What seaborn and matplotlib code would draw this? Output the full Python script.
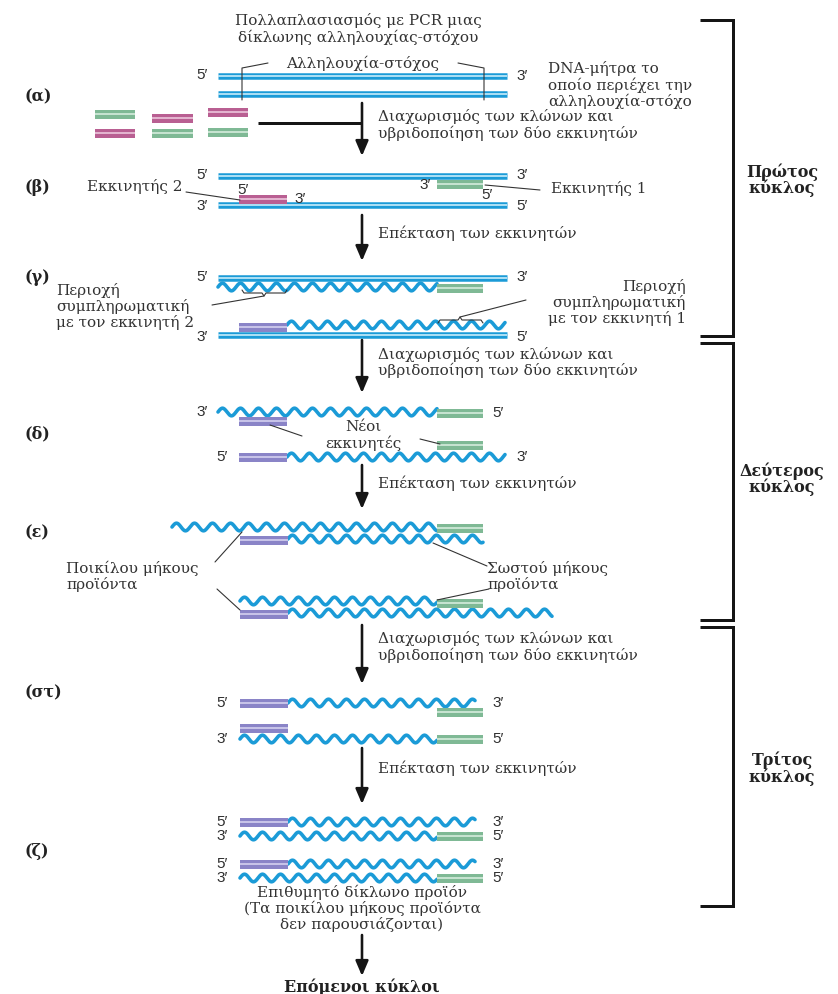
import numpy as np
import matplotlib
matplotlib.use("Agg")
import matplotlib.pyplot as plt
import seaborn as sns
from matplotlib.patches import Rectangle

sns.set_theme(style="white")

W, H = 838, 994
PX = 0.72  # points per pixel at dpi 100

BLUE = "#1b9bd7"
BLUE_LIGHT = "#b9e6f8"
PRIMER_COLORS = {"g": ("#7fb995", "#c6e3d0"),
                 "p": ("#b95f92", "#e3b4cf"),
                 "v": ("#8a84c7", "#c7c3e8")}
TEXT = "#333333"
SERIF = ["DejaVu Serif"]
SANS = ["Liberation Sans", "DejaVu Sans"]
FS = 11

# ── diagram data (pixel coordinates, y grows downward) ─────────────────────
straight = [(218, 507, 76), (218, 507, 94),
            (218, 507, 176), (218, 507, 205),
            (218, 507, 278), (218, 507, 335)]

waves = [(218, 437, 287), (287, 505, 325),
         (218, 437, 412), (287, 505, 457),
         (172, 437, 527), (288, 483, 539),
         (240, 437, 601), (288, 552, 613),
         (288, 475, 703), (240, 437, 739),
         (288, 475, 822), (240, 437, 836),
         (288, 475, 864), (240, 437, 878)]

primers = [(95, 135, 114, "g"), (152, 193, 118, "p"), (208, 248, 112, "p"),
           (95, 135, 133, "p"), (152, 193, 133, "g"), (208, 248, 132, "g"),
           (437, 483, 184, "g"), (239, 287, 199, "p"),
           (437, 483, 288, "g"), (239, 287, 327, "v"),
           (437, 483, 413, "g"), (239, 287, 421, "v"),
           (437, 483, 445, "g"), (239, 287, 457, "v"),
           (437, 483, 528, "g"), (240, 288, 540, "v"),
           (437, 483, 603, "g"), (240, 288, 614, "v"),
           (240, 288, 703, "v"), (437, 483, 712, "g"),
           (240, 288, 728, "v"), (437, 483, 739, "g"),
           (240, 288, 822, "v"), (437, 483, 836, "g"),
           (240, 288, 864, "v"), (437, 483, 878, "g")]

# strand-end labels: x, y, text, alignment
ends = [(208, 75, "5′", "right"), (516, 76, "3′", "left"),
        (208, 175, "5′", "right"), (516, 175, "3′", "left"),
        (208, 206, "3′", "right"), (516, 206, "5′", "left"),
        (431, 185, "3′", "right"), (481, 195, "5′", "left"),
        (237, 190, "5′", "left"), (294, 199, "3′", "left"),
        (208, 277, "5′", "right"), (516, 277, "3′", "left"),
        (208, 337, "3′", "right"), (516, 337, "5′", "left"),
        (208, 412, "3′", "right"), (492, 413, "5′", "left"),
        (228, 457, "5′", "right"), (516, 457, "3′", "left"),
        (228, 703, "5′", "right"), (492, 703, "3′", "left"),
        (228, 739, "3′", "right"), (492, 739, "5′", "left"),
        (228, 822, "5′", "right"), (492, 822, "3′", "left"),
        (228, 836, "3′", "right"), (492, 836, "5′", "left"),
        (228, 864, "5′", "right"), (492, 864, "3′", "left"),
        (228, 878, "3′", "right"), (492, 878, "5′", "left")]

step_labels = [("(α)", 97), ("(β)", 188), ("(γ)", 278), ("(δ)", 434),
               ("(ε)", 533), ("(στ)", 693), ("(ζ)", 852)]

arrows = [(103, 156), (215, 261), (340, 393), (465, 509),
          (625, 684), (748, 804), (935, 976)]

step_text = [("Διαχωρισμός των κλώνων και", 117),
             ("υβριδοποίηση των δύο εκκινητών", 133),
             ("Επέκταση των εκκινητών", 233),
             ("Διαχωρισμός των κλώνων και", 354),
             ("υβριδοποίηση των δύο εκκινητών", 370),
             ("Επέκταση των εκκινητών", 483),
             ("Διαχωρισμός των κλώνων και", 639),
             ("υβριδοποίηση των δύο εκκινητών", 655),
             ("Επέκταση των εκκινητών", 768)]

# free notes: x, y, text, alignment
notes = [(358, 21, "Πολλαπλασιασμός με PCR μιας", "center"),
         (358, 37, "δίκλωνης αλληλουχίας-στόχου", "center"),
         (363, 63, "Αλληλουχία-στόχος", "center"),
         (548, 69, "DNA-μήτρα το", "left"),
         (548, 85, "οποίο περιέχει την", "left"),
         (548, 101, "αλληλουχία-στόχο", "left"),
         (182, 187, "Εκκινητής 2", "right"),
         (551, 188, "Εκκινητής 1", "left"),
         (56, 290, "Περιοχή", "left"),
         (56, 306, "συμπληρωματική", "left"),
         (56, 322, "με τον εκκινητή 2", "left"),
         (686, 286, "Περιοχή", "right"),
         (686, 302, "συμπληρωματική", "right"),
         (686, 318, "με τον εκκινητή 1", "right"),
         (363, 427, "Νέοι", "center"),
         (363, 443, "εκκινητές", "center"),
         (66, 568, "Ποικίλου μήκους", "left"),
         (66, 584, "προϊόντα", "left"),
         (487, 569, "Σωστού μήκους", "left"),
         (487, 585, "προϊόντα", "left"),
         (362, 892, "Επιθυμητό δίκλωνο προϊόν", "center"),
         (362, 908, "(Τα ποικίλου μήκους προϊόντα", "center"),
         (362, 924, "δεν παρουσιάζονται)", "center")]

leaders = [[(268, 63), (242, 68), (242, 100)],
           [(458, 63), (484, 68), (484, 100)],
           [(186, 192), (240, 200)],
           [(485, 185), (540, 190)],
           [(242, 290), (244, 293), (262, 293), (264, 296), (266, 293),
            (285, 293), (287, 290)],
           [(264, 296), (212, 305)],
           [(438, 323), (440, 320), (458, 320), (460, 317), (462, 320),
            (481, 320), (483, 323)],
           [(460, 317), (526, 300)],
           [(270, 425), (302, 436)],
           [(420, 439), (440, 444)],
           [(242, 532), (215, 562)],
           [(217, 589), (240, 610)],
           [(433, 543), (487, 566)],
           [(437, 600), (489, 589)]]

cycles = [("Πρώτος", "κύκλος", 20, 336, 172, 188),
          ("Δεύτερος", "κύκλος", 343, 620, 471, 487),
          ("Τρίτος", "κύκλος", 627, 906, 760, 777)]

WAVE_PERIOD = 18.0
WAVE_AMP = 3.8


def draw_straight(ax, x0, x1, y):
    ax.plot([x0, x1], [y, y], color=BLUE, lw=6.5 * PX,
            solid_capstyle="butt", zorder=2)
    ax.plot([x0, x1], [y, y], color=BLUE_LIGHT, lw=1.8 * PX,
            solid_capstyle="butt", zorder=3)


def draw_wave(ax, x0, x1, y):
    xs = np.linspace(x0, x1, 400)
    ys = y - WAVE_AMP * np.sin(2 * np.pi * (xs - x0) / WAVE_PERIOD)
    ax.plot(xs, ys, color=BLUE, lw=3.6 * PX, solid_capstyle="round",
            zorder=2)


def draw_primer(ax, x0, x1, y, kind):
    dark, light = PRIMER_COLORS[kind]
    ax.add_patch(Rectangle((x0, y - 4.5), x1 - x0, 9, facecolor=dark,
                           edgecolor="none", zorder=4))
    ax.add_patch(Rectangle((x0, y - 1.3), x1 - x0, 2.6, facecolor=light,
                           edgecolor="none", zorder=5))


fig = plt.figure(figsize=(W / 100, H / 100), dpi=100)
ax = fig.add_axes([0, 0, 1, 1])
ax.set_xlim(0, W)
ax.set_ylim(H, 0)
ax.axis("off")
fig.patch.set_facecolor("white")

for x0, x1, y in straight:
    draw_straight(ax, x0, x1, y)
for x0, x1, y in waves:
    draw_wave(ax, x0, x1, y)
for x0, x1, y, k in primers:
    draw_primer(ax, x0, x1, y, k)

for x, y, t, ha in ends:
    ax.text(x, y, t, ha=ha, va="center", fontsize=11, family=SANS,
            color="#2e2e2e")

for t, y in step_labels:
    ax.text(24, y, t, ha="left", va="center", fontsize=11.5,
            family=SERIF, fontweight="bold", color="#222222")

for t, y in step_text:
    ax.text(378, y, t, ha="left", va="center", fontsize=FS,
            family=SERIF, color=TEXT)

for x, y, t, ha in notes:
    ax.text(x, y, t, ha=ha, va="center", fontsize=FS, family=SERIF,
            color=TEXT)

for pts in leaders:
    xs, ys = zip(*pts)
    ax.plot(xs, ys, color="#333333", lw=1.1 * PX, zorder=6)

# process arrows
for y0, y1 in arrows:
    ax.annotate("", xy=(362, y1), xytext=(362, y0),
                arrowprops=dict(arrowstyle="-|>,head_width=0.32,head_length=0.75",
                                color="#151515", lw=2.6 * PX,
                                shrinkA=0, shrinkB=0))
ax.plot([258, 362], [123, 123], color="#151515", lw=3 * PX,
        solid_capstyle="butt")

# cycle brackets
for top_word, bottom_word, y0, y1, ty0, ty1 in cycles:
    ax.plot([700, 733, 733, 700], [y0, y0, y1, y1], color="#151515",
            lw=3 * PX, solid_joinstyle="miter", solid_capstyle="butt")
    ax.text(782, ty0, top_word, ha="center", va="center", fontsize=11.5,
            family=SERIF, fontweight="bold", color="#222222")
    ax.text(782, ty1, bottom_word, ha="center", va="center", fontsize=11.5,
            family=SERIF, fontweight="bold", color="#222222")

ax.text(362, 987, "Επόμενοι κύκλοι", ha="center", va="center",
        fontsize=11.5, family=SERIF, fontweight="bold", color="#222222")

fig.savefig("out.png", dpi=100, facecolor="white")
